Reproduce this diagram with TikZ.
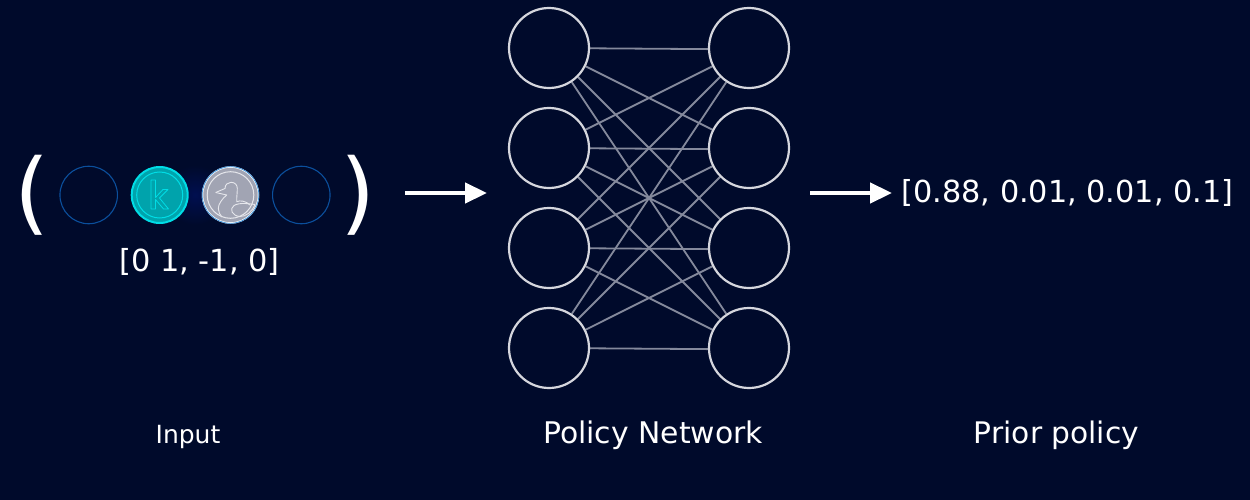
\documentclass[tikz,border=0pt]{standalone}
\usepackage{fontspec}
\setmainfont{DejaVu Sans}
\usetikzlibrary{backgrounds,arrows.meta}
\definecolor{bgnavy}{HTML}{000A2B}
\definecolor{ringgrey}{HTML}{D5D6DD}
\definecolor{edgegrey}{HTML}{84899C}
\definecolor{emptyblue}{HTML}{0B4F9C}
\definecolor{tealfill}{HTML}{00A3AC}
\definecolor{cyanring}{HTML}{00DDE6}
\definecolor{coingrey}{HTML}{A1A4B3}
\definecolor{duckline}{HTML}{E6E7EC}
\definecolor{glowblue}{HTML}{000F50}
\definecolor{rimblue}{HTML}{3F94DC}
\tikzset{
  x=1pt,y=-1pt,
  neuron/.style={circle,draw=ringgrey,line width=2.2pt,fill=bgnavy,minimum size=80pt,inner sep=0pt},
  edgeline/.style={draw=edgegrey,line width=1.8pt},
  emptycell/.style={circle,draw=emptyblue,line width=1.1pt,minimum size=57.5pt,inner sep=0pt},
  kcoin/.style={circle,draw=cyanring,line width=2pt,fill=tealfill,minimum size=56pt,inner sep=0pt},
  dcoin/.style={circle,draw=white,line width=1.5pt,fill=coingrey,minimum size=56pt,inner sep=0pt},
  bigarrow/.style={draw=white,line width=4.5pt,-{Triangle[length=22pt,width=20pt]}},
  lab/.style={text=white,inner sep=0pt,anchor=center},
  duckstroke/.style={draw=duckline,line width=0.9pt,line join=round},
}
\begin{document}
\begin{tikzpicture}
\useasboundingbox (0,0) rectangle (1250,500);
\foreach \i/\yy in {1/48,2/148,3/248,4/348}{
  \node[neuron] (L\i) at (549,\yy) {};
  \node[neuron] (R\i) at (749,\yy) {};
}
\begin{scope}[on background layer]
\fill[bgnavy] (0,0) rectangle (1250,500);
\shade[inner color=glowblue,outer color=bgnavy,draw=none] (195,195) circle (30);
\foreach \i in {1,...,4}{\foreach \j in {1,...,4}{
  \ifnum\i=\j
    \draw[edgeline] (L\i) -- ([yshift=-1.4pt]R\j.center);
  \else
    \draw[edgeline] (L\i) -- (R\j);
  \fi
}}
\end{scope}
% tokens
\node[emptycell] (c1) at (88.7,195) {};
\node[kcoin] (c2) at (159.7,195) {};
\node[dcoin] (c3) at (230.5,195) {};
\node[emptycell] (c4) at (301.3,195) {};
\draw[rimblue,line width=0.8pt] (c3) circle (28.3);
\draw[cyanring,line width=1pt] (c2) circle (23);
\draw[duckline,line width=1pt] (c3) circle (23.3);
% k icon
\draw[cyanring,line width=0.8pt,line join=round] (151,180) -- (155.5,180) -- (155.5,197.5) -- (163,189.5) -- (168,189.5) -- (159.5,198) -- (168.5,209) -- (163.5,209) -- (155.5,199.5) -- (155.5,209) -- (151,209) -- cycle;
% duck icon
\draw[duckstroke] (215.7,192.5) -- (225,188.5) .. controls (225,184.5) and (228,182.3) .. (231,182.3)
  .. controls (235,182.3) and (237.3,185) .. (237.3,188.5) .. controls (237.3,193) and (236.5,198) .. (236.7,201.7)
  .. controls (240,200) and (246,201) .. (250,205);
\draw[duckstroke] (215.7,192.5) -- (226.7,195) .. controls (222,199) and (218.3,204) .. (218.3,208.5)
  .. controls (218.3,212) and (220,215) .. (222,217);
\draw[duckstroke] (255,204.5) .. controls (250,204) and (240,202) .. (234,205.5)
  .. controls (229,209) and (232,216) .. (240,216.5) .. controls (246,216.5) and (252,212) .. (255,204.5);
\node[lab,font=\fontsize{90}{90}\selectfont] (pl) at (32,195) {(};
\node[lab,font=\fontsize{90}{90}\selectfont] (pr) at (358,195) {)};
\node[lab,font=\fontsize{30.4}{32}\selectfont] (vec) at (199.5,261.5) {[0 1, -1, 0]};
\node[lab,font=\fontsize{30.3}{32}\selectfont] (pol) at (1067.5,193) {[0.88, 0.01, 0.01, 0.1]};
\node[lab,font=\fontsize{25}{30}\selectfont] (t1) at (188,437) {Input};
\node[lab,font=\fontsize{29.8}{30}\selectfont] (t2) at (653,435) {Policy Network};
\node[lab,font=\fontsize{29.7}{30}\selectfont] (t3) at (1056.5,435) {Prior policy};
\coordinate (a1) at (405,193);
\coordinate (a2) at (487,193);
\coordinate (b1) at (810,193);
\coordinate (b2) at (892,193);
\draw[bigarrow] (a1) -- (a2);
\draw[bigarrow] (b1) -- (b2);
\end{tikzpicture}
\end{document}
